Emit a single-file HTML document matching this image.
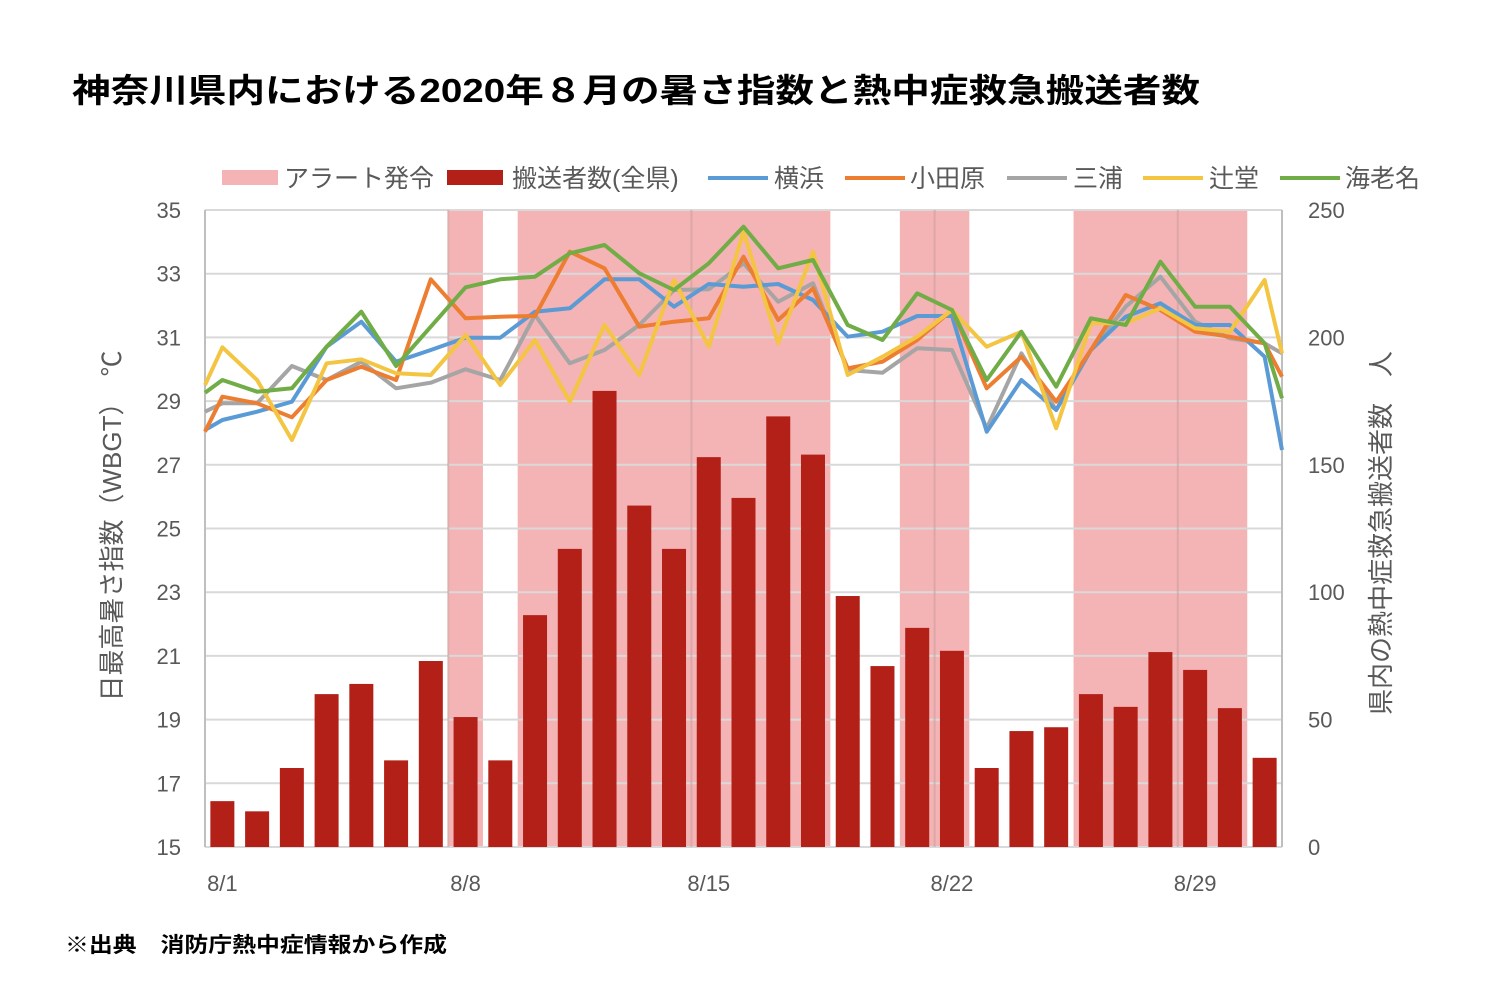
<!DOCTYPE html>
<html><head><meta charset="utf-8"><style>
html,body{margin:0;padding:0;background:#fff;}
svg{display:block;font-family:"Liberation Sans","Noto Sans CJK JP",sans-serif;}
</style></head><body>
<svg id="s" width="1500" height="1006" viewBox="0 0 1500 1006" xmlns="http://www.w3.org/2000/svg">
<rect width="1500" height="1006" fill="#fff"/>
<text x="72" y="102" font-size="33" font-weight="bold" fill="#000" textLength="1128" lengthAdjust="spacingAndGlyphs">神奈川県内における2020年８月の暑さ指数と熱中症救急搬送者数</text>
<g id="shade" fill="#f4b3b4"></g>
<g id="grid" stroke="#d9d9d9" stroke-width="2"></g>
<g id="bars" fill="#b22018"></g>
<g id="lines" fill="none" stroke-width="4" stroke-linejoin="round"></g>
<g id="labels" font-size="22" fill="#595959"></g>
<g font-size="25" fill="#595959">
<rect x="222" y="170" width="56" height="15" fill="#f4b3b4"/><text x="284" y="187">アラート発令</text>
<rect x="447" y="170" width="56" height="15" fill="#b22018"/><text x="512" y="187">搬送者数(全県)</text>
<line x1="708" y1="178" x2="768" y2="178" stroke="#5b9bd5" stroke-width="4"/><text x="774" y="187">横浜</text>
<line x1="845" y1="178" x2="905" y2="178" stroke="#ed7d31" stroke-width="4"/><text x="910" y="187">小田原</text>
<line x1="1007" y1="178" x2="1067" y2="178" stroke="#a5a5a5" stroke-width="4"/><text x="1073" y="187">三浦</text>
<line x1="1143" y1="178" x2="1203" y2="178" stroke="#f4c542" stroke-width="4"/><text x="1209" y="187">辻堂</text>
<line x1="1280" y1="178" x2="1340" y2="178" stroke="#70ad47" stroke-width="4"/><text x="1345" y="187">海老名</text>
</g>
<text transform="translate(121,526) rotate(-90)" text-anchor="middle" font-size="26" fill="#595959">日最高暑さ指数（WBGT）　℃</text>
<text transform="translate(1390,533) rotate(-90)" text-anchor="middle" font-size="26" fill="#595959">県内の熱中症救急搬送者数　人</text>
<text x="65" y="952" font-size="21" font-weight="bold" fill="#000" textLength="382" lengthAdjust="spacingAndGlyphs">※出典　消防庁熱中症情報から作成</text>
</svg>
<script>
var NS="http://www.w3.org/2000/svg";
function el(p,t,a,txt){var e=document.createElementNS(NS,t);for(var k in a)e.setAttribute(k,a[k]);if(txt!==undefined)e.textContent=txt;document.getElementById(p).appendChild(e);return e;}
var L=205,R=1282,T=210,B=847,W=(R-L)/31;
function dx(d){return L+(d-0.5)*W;}
[[8,8],[10,18],[21,22],[26,30]].forEach(function(r){el("shade","rect",{x:L+(r[0]-1)*W,y:T,width:(r[1]-r[0]+1)*W,height:B-T});});
for(var i=0;i<=10;i++){var y=T+i*(B-T)/10;el("grid","line",{x1:L,x2:R,y1:y,y2:y});}
[7,14,21,28].forEach(function(d){var x=L+d*W;el("grid","line",{x1:x,x2:x,y1:T,y2:B,stroke:"#c9a0a0","stroke-opacity":"0.6"});});
el("grid","line",{x1:L,x2:L,y1:T,y2:B,stroke:"#bfbfbf"});
el("grid","line",{x1:R,x2:R,y1:T,y2:B,stroke:"#bfbfbf"});
var bars=[18,14,31,60,64,34,73,51,34,91,117,179,134,117,153,137,169,154,98.5,71,86,77,31,45.5,47,60,55,76.5,69.5,54.5,35];
bars.forEach(function(v,i){var h=v*(B-T)/250;el("bars","rect",{x:dx(i+1)-12,y:B-h,width:24,height:h});});
var S={
"#a5a5a5":[605,580,580,468,510,455,535,518,478,510,315,460,420,345,240,238,160,275,220,480,488,415,420,655,430,600,420,290,200,335,385,400,430],
"#5b9bd5":[660,630,605,575,410,335,455,420,383,383,305,295,208,208,290,222,230,222,270,380,365,318,318,665,510,600,420,320,280,345,345,440,720],
"#ed7d31":[665,560,580,622,510,470,510,208,325,320,318,125,175,350,335,325,140,330,235,475,455,390,300,535,440,575,420,255,300,365,380,400,500],
"#f4c542":[525,412,510,690,460,448,490,495,375,525,390,575,345,495,210,410,65,400,125,495,440,380,300,410,365,655,340,340,295,355,365,210,430],
"#70ad47":[548,510,545,535,410,305,468,350,232,208,200,130,105,190,240,160,50,175,150,345,390,250,300,510,365,530,325,345,155,290,290,400,565]};
for(var c in S){var p=S[c].map(function(z,i){var x=i==0?L:(i==32?R:dx(i));return x.toFixed(1)+","+(210+z/3).toFixed(1);});
el("lines","polyline",{points:p.join(" "),stroke:c});}
for(var i=0;i<=10;i++){var y=T+i*(B-T)/10;el("labels","text",{x:181,y:y+8,"text-anchor":"end"},String(35-2*i));}
for(var i=0;i<=5;i++){var y=T+i*(B-T)/5;el("labels","text",{x:1308,y:y+8},String(250-50*i));}
[[1,"8/1"],[8,"8/8"],[15,"8/15"],[22,"8/22"],[29,"8/29"]].forEach(function(a){el("labels","text",{x:dx(a[0]),y:891,"text-anchor":"middle"},a[1]);});
</script>
</body></html>
